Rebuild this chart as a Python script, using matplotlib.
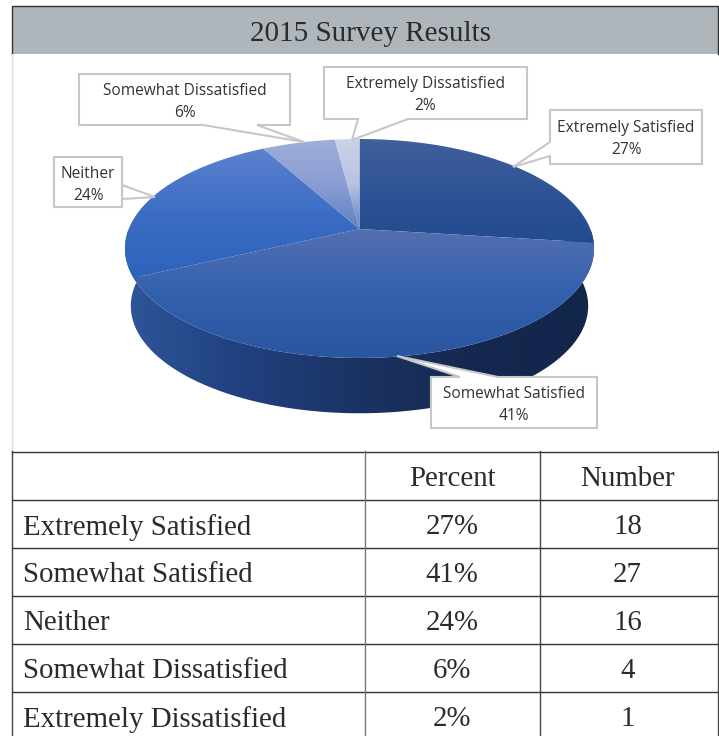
import numpy as np
import matplotlib
matplotlib.use("Agg")
import matplotlib.pyplot as plt
from matplotlib.colors import LinearSegmentedColormap
from matplotlib.patches import Polygon, Rectangle

# Survey data
title = "2015 Survey Results"
categories = ["Extremely Satisfied", "Somewhat Satisfied", "Neither",
              "Somewhat Dissatisfied", "Extremely Dissatisfied"]
percents = [27, 41, 24, 6, 2]
numbers = [18, 27, 16, 4, 1]
table_headers = ["Percent", "Number"]

# Vertical gradient stops for each slice's top face
slice_stops = [
    ["#41609c", "#2f5395", "#234a90"],
    ["#5470b0", "#3261ae", "#2a559f"],
    ["#5c82cc", "#3c6dc6", "#2e62b9"],
    ["#a0aed9", "#8a9dd2", "#5f80c4"],
    ["#ccd3e8", "#b8c3e2", "#5f80c4"],
]
side_stops = ["#2e5699", "#20407f", "#1b3363", "#15284f", "#12264c"]

# Perspective disc: apex, half width, and projection terms
CX, CY = 359.5, 229.0
HALF_W, HALF_H, TILT = 230.8, 106.0, 0.178
DEPTH, SHRINK_X, SHRINK_Y, MID_Y = 57.5, 0.975, 0.98, 248.5


def disc_point(turn):
    """Project a clockwise fraction of a full turn (0 = top) onto the disc."""
    a = 2 * np.pi * np.asarray(turn, dtype=float)
    u, v = np.sin(a), np.cos(a)
    w = 1 + TILT * v
    return CX + HALF_W * u / w, CY - HALF_H * v / w


def gradient(ax, stops, clip, extent, horizontal=False, zorder=2):
    cmap = LinearSegmentedColormap.from_list("g", stops)
    ramp = np.linspace(0, 1, 256)
    ramp = ramp[None, :] if horizontal else ramp[:, None]
    im = ax.imshow(ramp, cmap=cmap, extent=extent, aspect="auto",
                   origin="upper", interpolation="bilinear", zorder=zorder)
    im.set_clip_path(clip)


fig = plt.figure(figsize=(7.19, 7.36), dpi=100)
ax = fig.add_axes([0, 0, 1, 1])
ax.set_axis_off()
serif = "Liberation Serif"
label_font = "Open Sans"
ink = "#2b2b2b"

# Title band
ax.add_patch(Rectangle((12, 6), 706, 48, fc="#aeb5bb", ec="none", zorder=1))
ax.plot([12, 12, 718, 718], [54, 6, 6, 54], color="#333333", lw=1.0, zorder=1)
ax.plot([12, 12], [54, 451], color="#dddddd", lw=1, zorder=1)
ax.text(370, 34, title, family=serif, fontsize=21, color=ink,
        ha="center", va="center", zorder=6)

# Side wall, drawn first so the top faces overlap it
arc = np.linspace(0.2, 0.8, 200)
top_x, top_y = disc_point(arc)
low_x = CX + SHRINK_X * (top_x - CX)
low_y = MID_Y + DEPTH + SHRINK_Y * (top_y - MID_Y)
wall = Polygon(np.r_[np.c_[top_x, top_y], np.c_[low_x, low_y][::-1]],
               fc="none", ec="none", zorder=2)
ax.add_patch(wall)
gradient(ax, side_stops, wall, (125, 594, 420, 230), horizontal=True)

# Top faces, one wedge per percentage
edges = np.cumsum([0] + percents) / sum(percents)
for start, stop, stops in zip(edges[:-1], edges[1:], slice_stops):
    t = np.linspace(start, stop, 200)
    x, y = disc_point(t)
    pts = np.r_[[[CX, CY]], np.c_[x, y]]
    wedge = Polygon(pts, fc="none", ec="none", zorder=3)
    ax.add_patch(wedge)
    y_low, y_high = pts[:, 1].max() + 1, pts[:, 1].min() - 1
    gradient(ax, stops, wedge, (120, 600, y_low, y_high), zorder=3)

# Callouts: box (left, top, right, bottom) and pointer outline
callouts = [
    ((550, 110, 702, 164), [(550, 156), (513, 167), (550, 142)]),
    ((431, 377, 597, 428), [(460, 377), (397, 356), (498, 377)]),
    ((54, 157, 122, 207), [(122, 185), (155, 197), (122, 199)]),
    ((79, 74, 290, 125), [(257, 125), (304, 142), (203, 125)]),
    ((324, 67, 527, 119), [(408, 119), (352, 140), (358, 119)]),
]
for name, pct, (box, tail) in zip(categories, percents, callouts):
    left, top, right, bottom = box
    if tail[0][0] == right:          # pointer leaves the right side
        outline = [(left, top), (right, top), tail[2], tail[1], tail[0],
                   (right, bottom), (left, bottom)]
    elif tail[0][0] == left:         # pointer leaves the left side
        outline = [(left, top), (right, top), (right, bottom), (left, bottom),
                   tail[0], tail[1], tail[2]]
    elif tail[0][1] == top:          # pointer leaves the top side
        outline = [(left, top), tail[0], tail[1], tail[2], (right, top),
                   (right, bottom), (left, bottom)]
    else:                            # pointer leaves the bottom side
        outline = [(left, top), (right, top), (right, bottom), tail[0],
                   tail[1], tail[2], (left, bottom)]
    ax.add_patch(Polygon(outline, fc="white", ec="#c6c8c8", lw=1.5,
                         joinstyle="miter", zorder=4))
    cx, cy = (left + right) / 2, (top + bottom) / 2
    ax.text(cx, cy - 8.5, name, family=label_font, fontsize=11.2, color="#333333",
            ha="center", va="center", zorder=5)
    ax.text(cx, cy + 13.5, f"{pct}%", family=label_font, fontsize=11.2,
            color="#333333", ha="center", va="center", zorder=5)

# Results table
row_y = [451.5, 500, 548, 596, 644, 692, 740]
for y in row_y[:-1]:
    ax.plot([12, 719], [y, y], color="#333333", lw=1.0, zorder=1)
ax.plot([12, 12], [451, 736], color="#444444", lw=1.0, zorder=1)
ax.plot([365, 365], [451, 736], color="#777777", lw=1.0, zorder=1)
ax.plot([540, 540], [451, 736], color="#444444", lw=1.0, zorder=1)
ax.plot([718, 718], [451, 736], color="#444444", lw=1.0, zorder=1)

size = 20.8
ax.text(452, 479, table_headers[0], family=serif, fontsize=size, color=ink,
        ha="center", va="center")
ax.text(627.5, 479, table_headers[1], family=serif, fontsize=size, color=ink,
        ha="center", va="center")
for i, (name, pct, num) in enumerate(zip(categories, percents, numbers)):
    y = (row_y[i + 1] + row_y[i + 2]) / 2 + 3.5
    ax.text(23, y, name, family=serif, fontsize=size, color=ink, ha="left", va="center")
    ax.text(452, y, f"{pct}%", family=serif, fontsize=size, color=ink,
            ha="center", va="center")
    ax.text(627.5, y, str(num), family=serif, fontsize=size, color=ink,
            ha="center", va="center")

ax.set_xlim(0, 719)
ax.set_ylim(736, 0)
fig.savefig("out.png", dpi=100)
